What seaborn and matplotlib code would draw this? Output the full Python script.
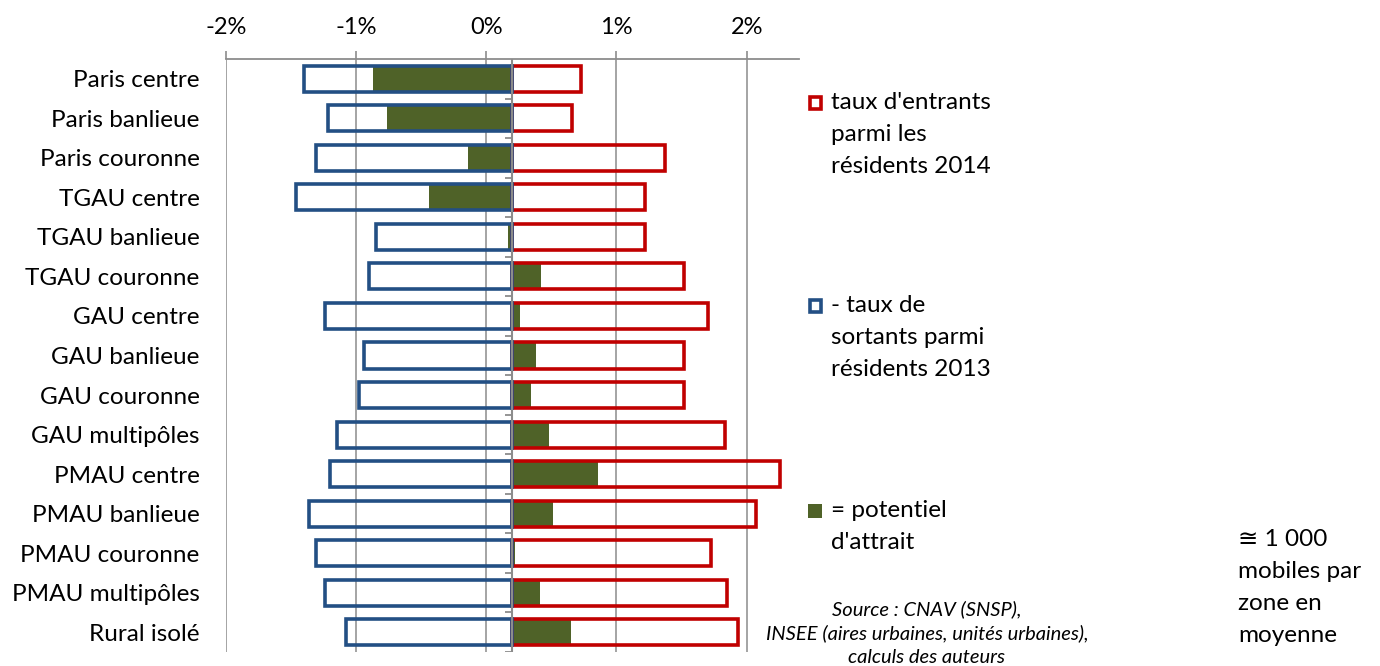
import numpy as np
import pandas as pd
import matplotlib
matplotlib.use("Agg")
import matplotlib.pyplot as plt
import matplotlib.patches as mpatches
import seaborn as sns

# zones
categories = ["Paris centre", "Paris banlieue", "Paris couronne", "TGAU centre",
              "TGAU banlieue", "TGAU couronne", "GAU centre", "GAU banlieue",
              "GAU couronne", "GAU multipôles", "PMAU centre", "PMAU banlieue",
              "PMAU couronne", "PMAU multipôles", "Rural isolé"]
# bar lengths in % (from the category axis)
entrants = [0.53, 0.46, 1.17, 1.02, 1.02, 1.32, 1.50, 1.32, 1.32, 1.63,
            2.06, 1.87, 1.53, 1.65, 1.73]
sortants = [-1.60, -1.42, -1.51, -1.66, -1.05, -1.10, -1.44, -1.14, -1.18, -1.35,
            -1.40, -1.56, -1.51, -1.44, -1.28]
potentiel = [-1.07, -0.96, -0.34, -0.64, -0.03, 0.22, 0.06, 0.18, 0.14, 0.28,
             0.66, 0.31, 0.02, 0.21, 0.45]
tick_values = [-2, -1, 0, 1, 2]
tick_labels = ["-2%", "-1%", "0%", "1%", "2%"]
axis_shift = 0.2  # l'axe des catégories croise à 0,2 %

RED = "#C00000"
BLUE = "#234F84"
GREEN = "#4F6228"
GREY = "#8C8C8C"
FS = 17.5

df = pd.DataFrame({"zone": categories, "entrants": entrants,
                   "sortants": sortants, "potentiel": potentiel})

sns.set_theme(style="white")
plt.rcParams["font.family"] = ["Lato", "DejaVu Sans"]
plt.rcParams["text.color"] = "black"

fig = plt.figure(figsize=(13.8, 6.66), dpi=100)
ax = fig.add_axes([226 / 1380, 1 - 652 / 666, (798.7 - 226) / 1380, (652 - 59) / 666])

bar_w = 0.66
sns.barplot(data=df, x="potentiel", y="zone", orient="h", color=GREEN,
            saturation=1, width=bar_w, linewidth=0, ax=ax, zorder=2)
sns.barplot(data=df, x="entrants", y="zone", orient="h", color=RED,
            saturation=1, width=bar_w, fill=False, linewidth=2.6, ax=ax, zorder=3)
sns.barplot(data=df, x="sortants", y="zone", orient="h", color=BLUE,
            saturation=1, width=bar_w, fill=False, linewidth=2.6, ax=ax, zorder=3)

ax.set_xlim(-2.2, 2.2)
ax.set_ylim(len(categories) - 0.5, -0.5)
ax.set_xlabel("")
ax.set_ylabel("")

# axe des valeurs en haut
ax.xaxis.tick_top()
ax.set_xticks([v - axis_shift for v in tick_values])
ax.set_xticklabels(tick_labels)
ax.tick_params(axis="x", direction="out", length=6, width=1.2, color=GREY,
               pad=9, labelsize=17, labelcolor="black", top=True, bottom=False)
ax.tick_params(axis="y", length=0, pad=19, labelsize=FS, labelcolor="black")

ax.grid(axis="x", color=GREY, linewidth=1.1, zorder=0)
ax.set_axisbelow(True)
for s in ["left", "right", "bottom"]:
    ax.spines[s].set_visible(False)
ax.spines["top"].set_color(GREY)
ax.spines["top"].set_linewidth(1.3)

# axe des catégories
ax.axvline(0, color=GREY, linewidth=1.5, zorder=4)
bounds = np.arange(len(categories)) + 0.5
ax.hlines(bounds, -0.055, 0, color=GREY, linewidth=1.3, zorder=4)

# légende
def legend_entry(y_px, text, kind):
    if kind == "fill":
        sq = mpatches.Rectangle((808 / 1380, 1 - (y_px + 7) / 666), 14 / 1380, 14 / 666,
                                transform=fig.transFigure, facecolor=GREEN,
                                edgecolor="none")
    else:
        sq = mpatches.Rectangle((809.5 / 1380, 1 - (y_px + 6) / 666), 12 / 1380, 12 / 666,
                                transform=fig.transFigure, facecolor="white",
                                edgecolor=BLUE if kind == "blue" else RED, linewidth=2.6)
    fig.add_artist(sq)
    fig.text(831 / 1380, 1 - (y_px - 11) / 666, text, ha="left", va="top",
             fontsize=FS, linespacing=1.64)

legend_entry(103, "taux d'entrants\nparmi les\nrésidents 2014", "red")
legend_entry(306, "- taux de\nsortants parmi\nrésidents 2013", "blue")
legend_entry(511, "= potentiel\nd'attrait", "fill")

fig.text(927 / 1380, 1 - 633 / 666,
         "Source : CNAV (SNSP),\nINSEE (aires urbaines, unités urbaines),\ncalculs des auteurs",
         ha="center", va="center", fontsize=14.5, style="italic", linespacing=1.45)
fig.text(1238 / 1380, 1 - 529 / 666, "≅ 1 000\nmobiles par\nzone en\nmoyenne",
         ha="left", va="top", fontsize=FS, linespacing=1.64)

fig.savefig("out.png", dpi=100)
